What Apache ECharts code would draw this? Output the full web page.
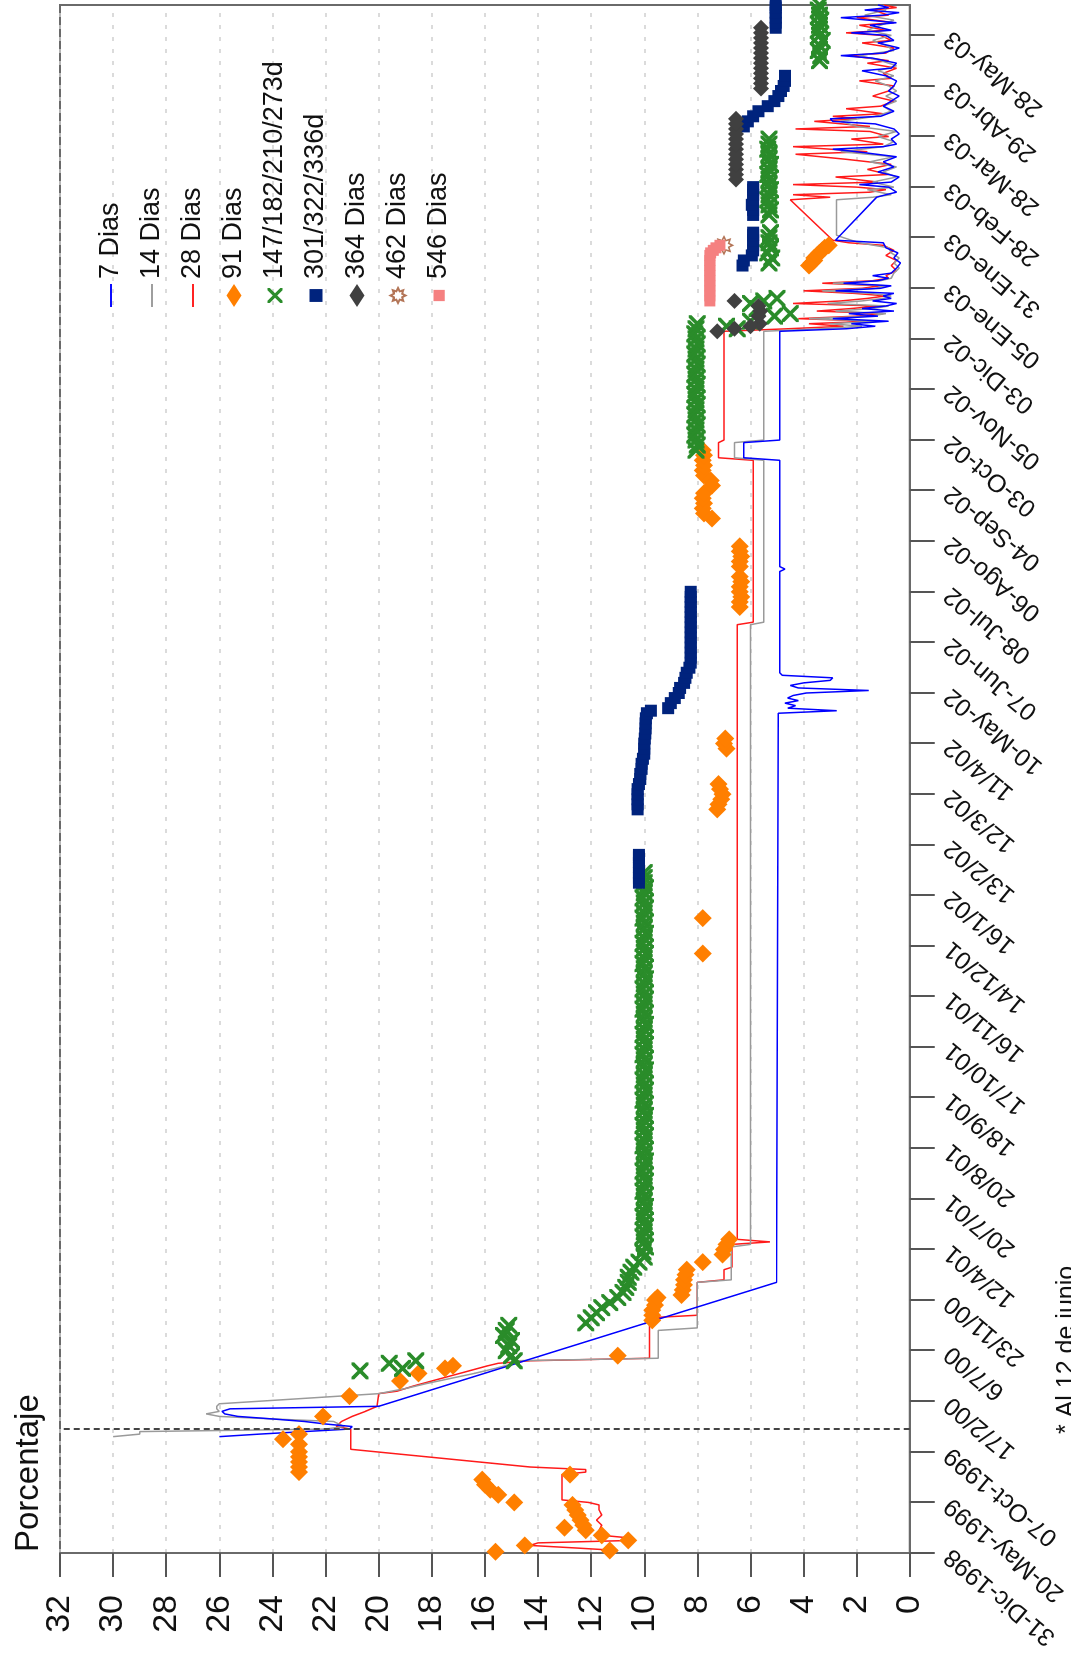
<!DOCTYPE html>
<html><head><meta charset="utf-8">
<script src="https://cdn.jsdelivr.net/npm/echarts@6/dist/echarts.min.js"></script>
<style>
html,body{margin:0;padding:0;background:#fff;overflow:hidden}
#wrap{position:absolute;left:0;top:0;width:1071px;height:1660px;overflow:hidden;background:#fff}
#chart{position:absolute;left:0;top:0;width:1660px;height:1071px;transform-origin:0 0;transform:translate(0,1660px) rotate(-90deg)}
</style></head>
<body><div id="wrap"><div id="chart"></div></div>
<script>
// ---- tick labels (one every 20 observations) ----
const tickLabels = ['31-Dic-1998','20-May-1999','07-Oct-1999','17/2/00','6/7/00','23/11/00','12/4/01','20/7/01','20/8/01','18/9/01','17/10/01','16/11/01','14/12/01','16/1/02','13/2/02','12/3/02','11/4/02','10-May-02','07-Jun-02','08-Jul-02','06-Ago-02','04-Sep-02','03-Oct-02','05-Nov-02','03-Dic-02','05-Ene-03','31-Ene-03','28-Feb-03','28-Mar-03','29-Abr-03','28-May-03'];
const TICK_STEP = 20;
const LAST_OBS = 612;
const DASH_OBS = 49;
const yTicks = [0,32,2];
const seriesNames = ['7 Dias','14 Dias','28 Dias','91 Dias','147/182/210/273d','301/322/336d','364 Dias','462 Dias','546 Dias'];
const noteText = '* Al 12 de junio';
const yTitle = 'Porcentaje';

// ---- series values: [observation index, percent] ----
const d7 = [[46,26.0],[47,24.5],[48,22.8],[49,21.1],[50,21.0],[51,22.0],[52,22.8],[53,24.0],[54,25.3],[55,25.8],[56,25.9],[57,25.6],[58,20.0],
[107,5.02],[331,4.95],[332,4.95],[333,2.75],[334,4.6],[335,4.3],[336,4.7],[337,4.2],[338,4.6],[339,4.4],[340,3.9],[341,1.55],[342,4.2],[343,4.5],[344,4.0],[345,3.0],[346,2.9],[347,4.8],[348,4.9],[388,4.9],[389,4.7],[390,4.9],[432,4.9],[433,6.25],[439,6.25],[440,4.9],[483,4.9],
[484,2.4],[485,1.3],[486,2.2],[487,0.8],[488,2.9],[489,1.2],[490,2.3],[491,0.6],[492,1.8],[493,0.9],[494,0.5],[495,1.4],[496,0.7],[497,1.0],[498,0.6],[499,2.8],[500,1.1],[501,0.7],[502,2.5],[503,1.2],[504,0.8],[505,1.4],[506,0.7],[508,0.5],[510,0.35],[512,0.6],[514,0.45],[516,0.9],[518,1.0],[519,2.8],[536,1.25],[537,0.9],[538,0.5],[540,0.8],[541,1.9],[542,0.7],[544,0.4],[546,1.2],[548,0.6],[550,1.0],[552,0.5],[554,2.0],[555,2.9],[556,1.0],[557,0.5],[559,0.7],[561,0.4],[563,0.6],[565,1.3],[566,2.9],[567,3.0],[568,1.1],[570,0.6],[572,1.0],[574,0.7],[576,0.4],[578,0.8],[580,0.6],[582,0.5],[584,0.9],[586,1.8],[587,0.7],[589,0.5],[591,1.4],[592,2.6],[593,1.0],[595,0.4],[597,1.2],[598,0.6],[600,0.9],[601,2.2],[602,0.7],[604,1.5],[605,0.5],[607,2.6],[608,1.0],[609,0.4],[610,1.7],[611,0.8],[612,1.2]];

const d14 = [[46,30.0],[47,29.0],[48,29.0],[49,22.0],[50,21.3],[51,21.5],[52,21.7],[53,24.0],[54,26.0],[55,26.5],[56,26.0],[57,26.1],[58,26.1],[59,26.0],[60,24.5],[61,23.0],[62,21.5],[63,20.0],[65,19.0],[67,18.2],[69,17.3],[71,16.4],[73,15.6],[75,14.9],[76,14.9],[77,9.47],[88,9.47],[89,8.0],[107,8.0],[108,6.72],[121,6.72],[122,6.0],[367,6.0],[368,5.5],[432,5.5],[433,6.6],[439,6.6],[440,5.5],[483,5.5],
[484,3.4],[485,1.8],[486,3.0],[487,1.2],[488,3.8],[489,1.5],[490,0.9],[491,2.8],[492,1.4],[493,0.8],[494,3.1],[495,1.8],[496,1.0],[497,0.7],[498,1.5],[499,3.3],[500,1.3],[501,0.9],[502,2.9],[503,1.1],[504,0.7],[506,0.6],[508,0.4],[510,0.6],[512,0.4],[514,0.7],[516,0.8],[518,1.9],[520,2.5],[521,2.76],[535,2.76],[536,1.4],[537,0.7],[539,1.6],[540,0.6],[542,1.4],[544,0.5],[546,1.0],[548,0.5],[550,1.5],[552,0.6],[554,2.6],[556,1.0],[558,0.6],[560,1.2],[562,0.5],[564,2.0],[566,2.6],[568,1.3],[570,0.7],[572,1.0],[574,0.5],[576,0.9],[578,0.5],[580,0.8],[582,1.3],[584,0.6],[586,1.2],[588,0.5],[590,1.1],[592,1.9],[594,0.6],[596,0.9],[598,1.4],[600,0.7],[602,1.6],[604,1.1],[606,0.6],[608,1.7],[610,0.9],[612,1.0]];

const d28 = [[0,11.4],[1,11.0],[2,12.6],[3,14.3],[4,14.0],[5,10.4],[6,10.6],[7,11.6],[9,11.7],[11,11.6],[13,11.8],[15,11.6],[17,11.7],[19,11.7],[20,12.1],[21,13.1],[31,13.1],[32,12.2],[33,12.2],[34,14.3],[41,21.05],[49,21.05],[50,21.6],[52,21.4],[54,21.0],[56,20.5],[58,20.06],[63,20.0],[64,19.3],[66,18.7],[68,18.0],[70,17.3],[72,16.6],[74,15.9],[75,15.5],[76,14.3],[77,9.8],[93,9.8],[94,8.0],[107,8.0],[108,7.0],[112,7.0],[113,6.7],[122,6.7],[123,5.27],[124,6.5],[367,6.5],[368,5.9],[432,5.9],[433,7.2],[439,7.2],[440,7.0],[483,7.0],
[484,4.6],[485,2.5],[486,3.8],[487,1.4],[488,4.2],[489,2.0],[490,1.0],[491,3.5],[492,2.2],[493,1.2],[494,4.4],[495,2.6],[496,1.6],[497,0.9],[498,2.1],[499,4.0],[500,1.8],[501,1.1],[502,3.3],[503,1.4],[504,0.8],[505,0.9],[507,0.5],[509,0.7],[511,0.5],[513,0.9],[515,0.6],[517,1.0],[518,2.3],[519,2.9],[535,4.5],[536,3.0],[537,4.4],[538,1.5],[539,0.9],[540,2.0],[541,4.4],[542,1.2],[544,2.8],[545,0.8],[547,1.6],[549,0.7],[551,2.4],[553,4.3],[554,1.6],[556,4.4],[557,1.0],[559,2.2],[560,0.8],[562,1.5],[563,4.3],[564,1.5],[566,3.6],[567,2.0],[568,2.9],[569,1.0],[571,2.4],[572,1.1],[574,0.6],[576,1.4],[578,0.8],[580,0.6],[582,1.9],[583,0.7],[585,1.0],[587,0.5],[589,1.6],[590,0.8],[592,2.3],[593,0.9],[595,0.6],[597,1.8],[598,0.7],[600,1.1],[601,2.4],[602,0.9],[604,1.9],[605,0.6],[607,2.0],[608,0.8],[610,1.4],[611,0.5],[612,1.0]];

const d91 = [[0.5,15.6],[1,11.3],[3,14.5],[5,10.6],[7,11.6],[9,12.2],[10,13.0],[11,12.3],[13,12.4],[15,12.5],[17,12.6],[19,12.7],[20,14.9],[23,15.5],[25,15.8],[27,16.0],[29,16.1],[31,12.8],[32,23.0],[34,23.0],[36,23.0],[38,23.0],[40,23.0],[43,23.0],[45,23.6],[47,23.0],[54,22.1],[62,21.1],[68,19.2],[71,18.5],[73,17.5],[74,17.2],[78,11.0],[92,9.7],[94,9.7],[96,9.7],[98,9.6],[100,9.6],[101,9.5],[102,8.6],[104,8.55],[106,8.5],[108,8.5],[110,8.45],[112,8.4],[115,7.8],[118,7.05],[120,7.0],[122,6.9],[124,6.8],
[237,7.8],[251,7.8],[294,7.25],[296,7.2],[298,7.1],[300,7.05],[302,7.15],[304,7.2],[318,6.9],[320,7.0],[322,6.95],[374,6.4],[376,6.4],[378,6.35],[380,6.4],[382,6.4],[384,6.35],[386,6.4],[390,6.4],[392,6.4],[394,6.35],[396,6.4],[398,6.4],[409,7.45],[411,7.75],[413,7.8],[415,7.75],[417,7.8],[419,7.75],[422,7.45],[424,7.5],[426,7.75],[428,7.8],[430,7.75],[432,7.8],[434,7.75],[436,7.8],
[509,3.8],[510,3.7],[511,3.6],[512,3.6],[513,3.5],[514,3.4],[515,3.3],[516,3.2],[517,3.05]];

const d147 = [[72,20.7],[73,19.1],[75,19.6],[76,18.6],[76,14.9],[78,15.0],[80,15.2],[82,15.1],[84,15.0],[86,15.3],[88,15.2],[90,15.1],[91,12.2],[93,12.0],[95,11.8],[97,11.6],[99,11.3],[101,11.0],[103,10.8],[105,10.7],[107,10.6],[109,10.6],[111,10.5],[113,10.4],[115,10.2],
[117,10.0],[119,10.05],[121,9.95],[123,10.0],[125,10.05],[127,10.0],[129,9.95],[131,10.0],[133,10.05],[135,10.0],[137,9.95],[139,10.0],[141,10.0],[143,10.05],[145,10.0],[147,9.95],[149,10.0],[151,10.05],[153,10.0],[155,9.95],[157,10.0],[159,10.0],[161,10.05],[163,10.0],[165,9.95],[167,10.0],[169,10.05],[171,10.0],[173,9.95],[175,10.0],[177,10.0],[179,10.05],[181,10.0],[183,9.95],[185,10.0],[187,10.05],[189,10.0],[191,9.95],[193,10.0],[195,10.0],[197,10.05],[199,10.0],[201,9.95],[203,10.0],[205,10.05],[207,10.0],[209,9.95],[211,10.0],[213,10.0],[215,10.05],[217,10.0],[219,9.95],[221,10.0],[223,10.05],[225,10.0],[227,9.95],[229,10.0],[231,10.0],[233,10.05],[235,10.0],[237,9.95],[239,10.0],[241,10.05],[243,10.0],[245,9.95],[247,10.0],[249,10.0],[251,10.05],[253,10.0],[255,9.95],[257,10.0],[259,10.05],[261,10.0],[263,9.95],[265,10.0],[267,10.0],[269,10.0],
[436,8.05],[438,8.0],[440,8.05],[442,8.1],[444,8.05],[446,8.0],[448,8.05],[450,8.1],[452,8.05],[454,8.0],[456,8.05],[458,8.1],[460,8.05],[462,8.0],[464,8.05],[466,8.1],[468,8.05],[470,8.0],[472,8.05],[474,8.1],[476,8.05],[478,8.0],[480,8.05],[482,8.1],[484,8.05],[486,8.0],
[484,6.5],[485,6.9],[487,6.0],[489,5.1],[490,4.5],[492,5.75],[494,6.0],[495,5.5],[496,5.0],
[510,5.3],[512,5.2],[514,5.35],[516,5.25],[518,5.3],[520,5.3],[522,5.25],
[529,5.3],[531,5.25],[533,5.3],[535,5.35],[537,5.3],[539,5.25],[541,5.3],[543,5.3],[545,5.35],[547,5.3],[549,5.25],[551,5.3],[553,5.3],[555,5.35],[557,5.3],[559,5.3],
[590,3.4],[592,3.35],[594,3.45],[596,3.4],[598,3.3],[600,3.4],[602,3.45],[604,3.4],[606,3.35],[608,3.4],[610,3.45],[612,3.4]];

const d301 = [[265,10.2],[267,10.2],[269,10.2],[271,10.2],[273,10.2],[275,10.2],[276,10.2],
[294,10.25],[296,10.25],[298,10.25],[300,10.25],[302,10.25],[304,10.2],[306,10.15],[308,10.15],[310,10.1],[312,10.1],[314,10.05],[316,10.0],[318,10.0],[320,10.0],[322,9.98],[324,9.96],[326,9.95],[328,9.95],[330,9.94],[332,9.9],[333,9.75],[334,9.1],[336,9.0],[338,8.85],[340,8.7],[342,8.65],[344,8.5],[346,8.45],[348,8.4],[350,8.3],[352,8.25],[354,8.25],[356,8.25],[358,8.25],[360,8.25],[362,8.25],[364,8.25],[366,8.25],[368,8.25],[370,8.25],[372,8.25],[374,8.25],[376,8.25],[378,8.25],[380,8.25],
[509,6.3],[511,6.25],[513,5.95],[515,5.9],[517,5.9],[519,5.9],[521,5.9],[522,5.9],[529,5.9],[531,5.9],[533,5.95],[535,5.9],[537,5.9],[539,5.9],[540,5.9],
[564,6.25],[566,6.1],[568,5.9],[570,5.7],[572,5.35],[574,5.1],[576,4.95],[578,4.85],[580,4.75],[582,4.7],[584,4.7],
[603,5.05],[605,5.05],[607,5.05],[609,5.05],[611,5.05],[612,5.05]];

const d364 = [[483,7.25],[484,6.6],[485,6.0],[486,5.65],[489,5.7],[491,5.63],[493,5.7],[495,6.6],
[543,6.55],[545,6.55],[547,6.55],[549,6.55],[551,6.55],[553,6.55],[555,6.55],[557,6.55],[559,6.55],[561,6.55],[563,6.55],[565,6.55],[567,6.55],
[579,5.6],[581,5.6],[583,5.6],[585,5.6],[587,5.6],[589,5.6],[591,5.6],[593,5.6],[595,5.6],[597,5.6],[599,5.6],[601,5.6],[603,5.6]];

const d462 = [[517,7.0]];

const d546 = [[495,7.53],[497,7.53],[499,7.53],[501,7.53],[503,7.53],[505,7.53],[507,7.53],[509,7.53],[511,7.53],[513,7.53],[514,7.5],[515,7.4],[516,7.3],[517,7.15]];

// ---- rendering ----
const FONT = '"Liberation Sans", Arial, sans-serif';
const tickIdx = tickLabels.map((_, i) => i * TICK_STEP);
const xPath = 'path://M0,0L3,0L10,7L17,0L20,0L20,3L13,10L20,17L20,20L17,20L10,13L3,20L0,20L0,17L7,10L0,3Z';
const sunPath = 'path://M20,10L15.54,12.3L17.07,17.07L12.3,15.54L10,20L7.7,15.54L2.93,17.07L4.46,12.3L0,10L4.46,7.7L2.93,2.93L7.7,4.46L10,0L12.3,4.46L17.07,2.93L15.54,7.7Z';
const lineIcon = 'path://M0,0L24,0L24,2L0,2Z';
const sqIcon = 'path://M-1,-1L-1,-1ZM13,13L13,13ZM0,0L12,0L12,12L0,12Z';
const smallSqIcon = 'path://M-2,-2L-2,-2ZM14,14L14,14ZM0,0L12,0L12,12L0,12Z';
const legendIcons = [lineIcon, lineIcon, lineIcon, 'diamond', xPath, sqIcon, 'diamond', sunPath, smallSqIcon];

const chart = echarts.init(document.getElementById('chart'), null, {renderer: 'canvas'});
const lineS = (name, data, color, extra) => Object.assign({
  name, type: 'line', data, symbol: 'none', showSymbol: false,
  lineStyle: {color, width: 1.5}, itemStyle: {color}, emphasis: {disabled: true}, z: 2
}, extra || {});
const ptS = (name, data, symbol, size, color, extra) => Object.assign({
  name, type: 'scatter', data, symbol, symbolSize: size,
  itemStyle: {color, opacity: 1}, emphasis: {disabled: true}, z: 3
}, extra || {});

chart.setOption({
  animation: false,
  backgroundColor: '#ffffff',
  grid: {left: 107, right: 5, top: 60, bottom: 161, show: true, borderColor: '#6a6a6a', borderWidth: 2, backgroundColor: 'transparent'},
  xAxis: {
    type: 'value', min: 0, max: LAST_OBS, position: 'bottom',
    axisLine: {show: true, onZero: false, lineStyle: {color: '#6a6a6a', width: 2}},
    axisTick: {show: true, length: 25, customValues: tickIdx, lineStyle: {color: '#555', width: 2}},
    axisLabel: {customValues: tickIdx, formatter: v => tickLabels[Math.round(v / TICK_STEP)] || '', rotate: 50, margin: 38, fontSize: 25, fontFamily: FONT, color: '#111'},
    splitLine: {show: false}
  },
  yAxis: {
    type: 'value', min: yTicks[0], max: yTicks[1], interval: yTicks[2],
    axisLine: {show: true, lineStyle: {color: '#6a6a6a', width: 2}},
    axisTick: {show: true, length: 24, lineStyle: {color: '#555', width: 2}},
    axisLabel: {margin: 42, fontSize: 34, fontFamily: FONT, color: '#111'},
    splitLine: {show: true, lineStyle: {color: '#cfcfcf', type: [4, 8], width: 1.5}}
  },
  legend: {
    orient: 'vertical', left: 1353, top: 96, padding: 0, itemWidth: 23, itemHeight: 15, itemGap: 11,
    textStyle: {fontSize: 27, fontFamily: FONT, color: '#111', lineHeight: 30},
    data: seriesNames.map((n, i) => ({name: n, icon: legendIcons[i]})), selectedMode: false
  },
  graphic: [
    {type: 'text', x: 108, y: 29, style: {text: yTitle, fontSize: 33, fontFamily: FONT, fill: '#111', align: 'left', verticalAlign: 'middle'}},
    {type: 'text', x: 226, y: 1067, style: {text: noteText, fontSize: 25, fontFamily: FONT, fill: '#111', align: 'left', verticalAlign: 'middle'}}
  ],
  series: [
    lineS(seriesNames[2], d28, '#ff1a1a', {markLine: {silent: true, symbol: 'none', animation: false, label: {show: false}, lineStyle: {color: '#444', type: [6, 4], width: 2}, data: [{xAxis: DASH_OBS}]}}),
    lineS(seriesNames[1], d14, '#9a9a9a'),
    lineS(seriesNames[0], d7, '#0000ff'),
    ptS(seriesNames[3], d91, 'diamond', 18, '#ff7f00'),
    ptS(seriesNames[4], d147, xPath, 17, '#2a8c2a'),
    ptS(seriesNames[5], d301, 'rect', 12, '#00237d'),
    ptS(seriesNames[6], d364, 'diamond', 16, '#404040'),
    ptS(seriesNames[7], d462, sunPath, 17, 'rgba(255,255,255,0)', {itemStyle: {color: 'rgba(255,255,255,0)', borderColor: '#a0522d', borderWidth: 1.6}}),
    ptS(seriesNames[8], d546, 'rect', 11, '#f58080')
  ]
});
</script>
</body></html>
